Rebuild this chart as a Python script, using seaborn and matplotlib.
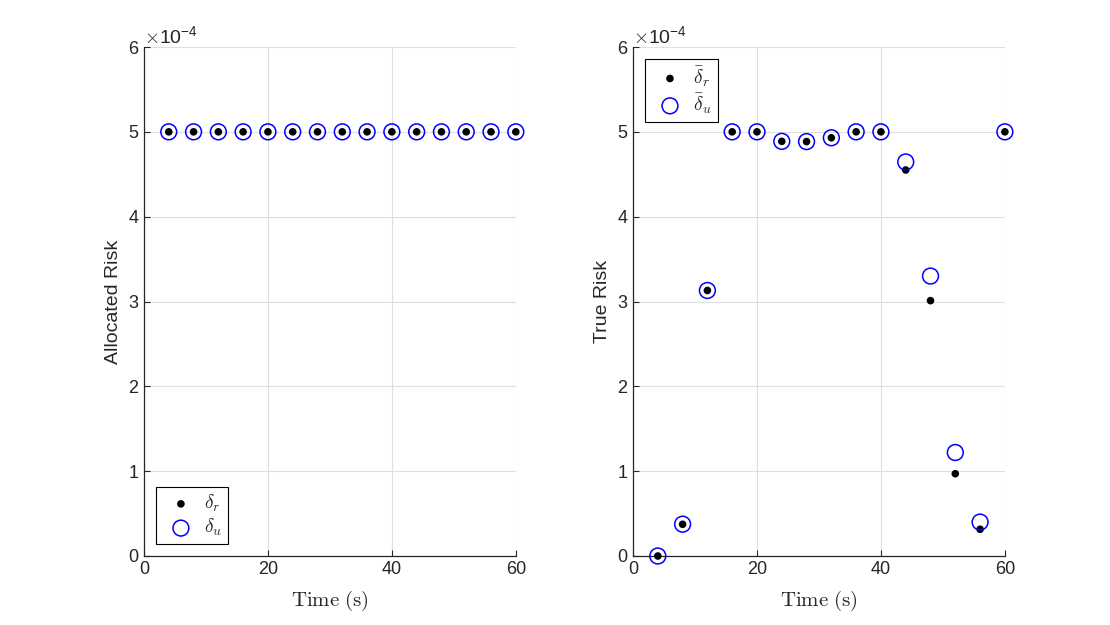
import numpy as np
import pandas as pd
import seaborn as sns
import matplotlib.pyplot as plt
from matplotlib.ticker import ScalarFormatter

# time steps (s)
time_s = [4, 8, 12, 16, 20, 24, 28, 32, 36, 40, 44, 48, 52, 56, 60]

# allocated risk per step
alloc_r = [5e-4] * 15
alloc_u = [5e-4] * 15

# true risk per step
true_r = [0.0, 0.374e-4, 3.13e-4, 5.0e-4, 5.0e-4, 4.888e-4, 4.885e-4, 4.93e-4,
          5.0e-4, 5.0e-4, 4.55e-4, 3.01e-4, 0.97e-4, 0.315e-4, 5.0e-4]
true_u = [0.0, 0.375e-4, 3.13e-4, 5.0e-4, 5.0e-4, 4.888e-4, 4.885e-4, 4.93e-4,
          5.0e-4, 5.0e-4, 4.645e-4, 3.30e-4, 1.22e-4, 0.40e-4, 5.0e-4]

sns.set_style("white")
plt.rcParams["font.family"] = ["Liberation Sans", "DejaVu Sans"]
plt.rcParams["mathtext.fontset"] = "cm"


def risk_panel(ax, y_r, y_u, ylabel, lab_r, lab_u, legend_loc):
    df = pd.DataFrame({"t": time_s, "r": y_r, "u": y_u})
    sns.scatterplot(data=df, x="t", y="r", ax=ax, color="black", s=30,
                    edgecolor="none", label=lab_r, zorder=3, clip_on=False)
    sns.scatterplot(data=df, x="t", y="u", ax=ax, s=130, marker="o",
                    facecolors="none", edgecolors="#0000ff", linewidths=1.1,
                    label=lab_u, zorder=3, clip_on=False)
    ax.set_xlim(0, 60)
    ax.set_ylim(0, 6e-4)
    ax.set_xticks([0, 20, 40, 60])
    ax.set_yticks(np.arange(0, 7) * 1e-4)
    fmt = ScalarFormatter(useMathText=True)
    fmt.set_powerlimits((0, 0))
    ax.yaxis.set_major_formatter(fmt)
    ax.yaxis.get_offset_text().set_fontsize(14)
    ax.grid(True, color="#dfdfdf", linewidth=0.8)
    ax.set_axisbelow(True)
    for side in ["top", "right"]:
        ax.spines[side].set_visible(False)
    for side in ["left", "bottom"]:
        ax.spines[side].set_color("#262626")
        ax.spines[side].set_linewidth(0.9)
    ax.tick_params(direction="in", length=4, labelsize=13, colors="#262626",
                   left=True, bottom=True)
    ax.set_xlabel(r"$\mathrm{Time\ (s)}$", fontsize=15, color="#262626",
                  labelpad=8)
    ax.set_ylabel(ylabel, fontsize=14, color="#262626")
    leg = ax.legend(loc=legend_loc, fontsize=14, frameon=True, fancybox=False,
                    edgecolor="black", framealpha=1, borderaxespad=0.6,
                    handletextpad=0.2, labelspacing=0.15, borderpad=0.3)
    leg.get_frame().set_linewidth(0.8)


fig = plt.figure(figsize=(11.1, 6.25), dpi=100)
ax1 = fig.add_axes([0.1297, 0.1104, 0.335, 0.8144])
ax2 = fig.add_axes([0.5703, 0.1104, 0.335, 0.8144])

risk_panel(ax1, alloc_r, alloc_u, "Allocated Risk",
           r"$\delta_r$", r"$\delta_u$", "lower left")
risk_panel(ax2, true_r, true_u, "True Risk",
           r"$\bar{\delta}_r$", r"$\bar{\delta}_u$", "upper left")

fig.savefig("out.png", dpi=100, facecolor="white")
